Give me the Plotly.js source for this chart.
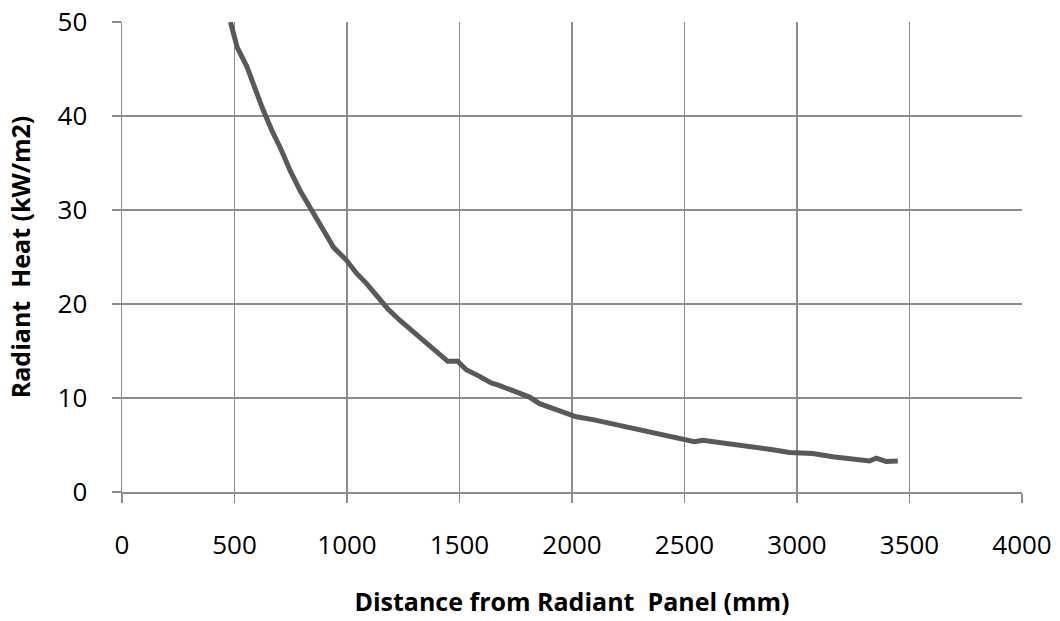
<!DOCTYPE html>
<html>
<head>
<meta charset="utf-8">
<script src="https://cdn.plot.ly/plotly-3.0.1.min.js"></script>
<style>html,body{margin:0;padding:0;background:#fff;}#chart{width:1060px;height:621px;}</style>
</head>
<body>
<div id="chart"></div>
<script>
const distanceMm = [482, 512, 556, 586, 623, 667, 704, 749, 793, 845, 897, 941, 996, 1041, 1086, 1130, 1181, 1233, 1292, 1352, 1403, 1448, 1492, 1530, 1589, 1641, 1670, 1752, 1811, 1856, 1915, 1974, 2019, 2093, 2167, 2241, 2300, 2389, 2478, 2544, 2581, 2685, 2789, 2892, 2967, 3070, 3159, 3248, 3322, 3352, 3396, 3448];
const radiantHeat = [50, 47.3, 45.2, 43.2, 40.9, 38.4, 36.6, 34.1, 32.0, 29.9, 27.7, 26.0, 24.7, 23.3, 22.2, 21.0, 19.5, 18.3, 17.1, 16.0, 14.9, 13.9, 13.9, 13.0, 12.3, 11.6, 11.4, 10.7, 10.1, 9.4, 8.9, 8.4, 8.0, 7.7, 7.3, 6.9, 6.7, 6.2, 5.7, 5.35, 5.5, 5.2, 4.8, 4.5, 4.2, 4.1, 3.75, 3.45, 3.3, 3.6, 3.25, 3.3];
const xTicks = [0, 500, 1000, 1500, 2000, 2500, 3000, 3500, 4000];
const yTicks = [0, 10, 20, 30, 40, 50];
const xTitle = 'Distance from Radiant  Panel (mm)';
const yTitle = 'Radiant  Heat (kW/m2)';

const gridColor = '#8c8c8c';
const fontFam = '"Open Sans", "Liberation Sans", sans-serif';

const trace = {
  x: distanceMm, y: radiantHeat,
  type: 'scatter', mode: 'lines',
  line: {color: '#595959', width: 5},
  hoverinfo: 'skip'
};

const layout = {
  width: 1060, height: 621,
  margin: {l: 122, r: 38, t: 22, b: 129},
  paper_bgcolor: '#ffffff', plot_bgcolor: '#ffffff',
  showlegend: false,
  font: {family: fontFam, color: '#000000', size: 20},
  xaxis: {
    range: [0, 4000], tickvals: xTicks, ticktext: xTicks.map(String),
    showgrid: true, gridcolor: gridColor, gridwidth: 1.5,
    showline: true, linecolor: gridColor, linewidth: 1.5,
    ticks: 'outside', ticklen: 9, tickcolor: gridColor, tickwidth: 1.5,
    ticklabelstandoff: 20,
    zeroline: false, mirror: false,
    tickfont: {family: fontFam, size: 26, color: '#000'},
    title: {text: xTitle, font: {family: fontFam, size: 25, color: '#000', weight: 'bold'}, standoff: 33}
  },
  yaxis: {
    range: [0, 50], tickvals: yTicks, ticktext: yTicks.map(String),
    showgrid: true, gridcolor: gridColor, gridwidth: 1.5,
    showline: true, linecolor: gridColor, linewidth: 1.5,
    ticks: 'outside', ticklen: 9, tickcolor: gridColor, tickwidth: 1.5,
    ticklabelstandoff: 19,
    zeroline: false,
    tickfont: {family: fontFam, size: 26, color: '#000'},
    title: {text: yTitle, font: {family: fontFam, size: 25, color: '#000', weight: 'bold'}, standoff: 20}
  }
};

Plotly.newPlot('chart', [trace], layout, {displayModeBar: false, staticPlot: true});
</script>
</body>
</html>
